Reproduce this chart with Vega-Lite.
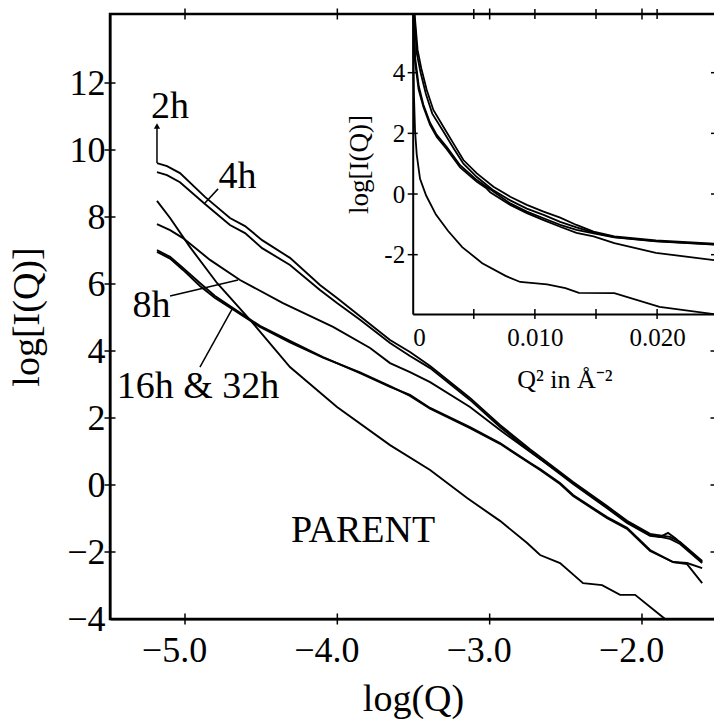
{
  "$schema": "https://vega.github.io/schema/vega-lite/v6.json",
  "width": 606,
  "height": 605,
  "autosize": {"type": "none"},
  "padding": {"left": 110, "top": 14, "right": 0, "bottom": 107},
  "background": "white",
  "config": {
    "view": {"stroke": "black", "strokeWidth": 2.5},
    "font": "Liberation Serif",
    "axis": {"grid": false, "domainColor": "black", "tickColor": "black", "labelColor": "black", "titleColor": "black", "labelFont": "Liberation Serif", "titleFont": "Liberation Serif", "titleFontWeight": "normal", "domainWidth": 2}
  },
  "datasets": {
    "main": [
      {"s":"2h","x":-5.184,"y":9.61},{"s":"2h","x":-5.118,"y":9.52},{"s":"2h","x":-5.033,"y":9.31},{"s":"2h","x":-4.869,"y":8.60},{"s":"2h","x":-4.705,"y":7.97},{"s":"2h","x":-4.606,"y":7.73},{"s":"2h","x":-4.494,"y":7.31},{"s":"2h","x":-4.311,"y":6.78},{"s":"2h","x":-4.114,"y":5.97},{"s":"2h","x":-4.002,"y":5.58},{"s":"2h","x":-3.851,"y":5.04},{"s":"2h","x":-3.654,"y":4.33},{"s":"2h","x":-3.523,"y":3.97},{"s":"2h","x":-3.391,"y":3.55},{"s":"2h","x":-3.129,"y":2.60},{"s":"2h","x":-2.932,"y":1.79},{"s":"2h","x":-2.735,"y":1.07},{"s":"2h","x":-2.538,"y":0.39},{"s":"2h","x":-2.452,"y":0.09},{"s":"2h","x":-2.229,"y":-0.63},{"s":"2h","x":-2.098,"y":-1.07},{"s":"2h","x":-1.947,"y":-1.46},{"s":"2h","x":-1.816,"y":-1.55},{"s":"2h","x":-1.750,"y":-1.70},{"s":"2h","x":-1.605,"y":-2.27},
      {"s":"4h","x":-5.184,"y":9.34},{"s":"4h","x":-5.118,"y":9.25},{"s":"4h","x":-5.033,"y":9.04},{"s":"4h","x":-4.869,"y":8.39},{"s":"4h","x":-4.705,"y":7.76},{"s":"4h","x":-4.606,"y":7.52},{"s":"4h","x":-4.494,"y":7.07},{"s":"4h","x":-4.311,"y":6.57},{"s":"4h","x":-4.114,"y":5.82},{"s":"4h","x":-4.002,"y":5.43},{"s":"4h","x":-3.851,"y":4.93},{"s":"4h","x":-3.654,"y":4.24},{"s":"4h","x":-3.523,"y":3.85},{"s":"4h","x":-3.391,"y":3.49},{"s":"4h","x":-3.129,"y":2.54},{"s":"4h","x":-2.932,"y":1.73},{"s":"4h","x":-2.735,"y":1.01},{"s":"4h","x":-2.538,"y":0.33},{"s":"4h","x":-2.452,"y":0.03},{"s":"4h","x":-2.229,"y":-0.69},{"s":"4h","x":-2.098,"y":-1.13},{"s":"4h","x":-1.947,"y":-1.52},{"s":"4h","x":-1.881,"y":-1.55},{"s":"4h","x":-1.829,"y":-1.43},{"s":"4h","x":-1.783,"y":-1.58},{"s":"4h","x":-1.605,"y":-2.30},
      {"s":"8h","x":-5.184,"y":7.79},{"s":"8h","x":-5.098,"y":7.61},{"s":"8h","x":-5.013,"y":7.37},{"s":"8h","x":-4.836,"y":6.72},{"s":"8h","x":-4.639,"y":6.12},{"s":"8h","x":-4.357,"y":5.43},{"s":"8h","x":-4.028,"y":4.72},{"s":"8h","x":-3.785,"y":4.09},{"s":"8h","x":-3.654,"y":3.64},{"s":"8h","x":-3.523,"y":3.37},{"s":"8h","x":-3.391,"y":3.07},{"s":"8h","x":-3.129,"y":2.33},{"s":"8h","x":-2.932,"y":1.64},{"s":"8h","x":-2.735,"y":0.99},{"s":"8h","x":-2.538,"y":0.36},{"s":"8h","x":-2.452,"y":0.06},{"s":"8h","x":-2.229,"y":-0.66},{"s":"8h","x":-2.098,"y":-1.10},{"s":"8h","x":-1.947,"y":-1.49},{"s":"8h","x":-1.816,"y":-1.61},{"s":"8h","x":-1.750,"y":-1.76},{"s":"8h","x":-1.605,"y":-2.33},
      {"s":"16h","x":-5.184,"y":7.01},{"s":"16h","x":-5.098,"y":6.81},{"s":"16h","x":-5.013,"y":6.48},{"s":"16h","x":-4.902,"y":6.03},{"s":"16h","x":-4.803,"y":5.64},{"s":"16h","x":-4.685,"y":5.28},{"s":"16h","x":-4.508,"y":4.75},{"s":"16h","x":-4.311,"y":4.30},{"s":"16h","x":-4.094,"y":3.82},{"s":"16h","x":-3.851,"y":3.34},{"s":"16h","x":-3.654,"y":2.93},{"s":"16h","x":-3.523,"y":2.69},{"s":"16h","x":-3.391,"y":2.30},{"s":"16h","x":-3.129,"y":1.73},{"s":"16h","x":-2.932,"y":1.25},{"s":"16h","x":-2.735,"y":0.66},{"s":"16h","x":-2.669,"y":0.48},{"s":"16h","x":-2.538,"y":0.06},{"s":"16h","x":-2.452,"y":-0.30},{"s":"16h","x":-2.229,"y":-0.96},{"s":"16h","x":-2.098,"y":-1.28},{"s":"16h","x":-1.947,"y":-1.94},{"s":"16h","x":-1.796,"y":-2.30},{"s":"16h","x":-1.704,"y":-2.36},{"s":"16h","x":-1.605,"y":-2.93},
      {"s":"32h","x":-5.184,"y":6.96},{"s":"32h","x":-5.098,"y":6.76},{"s":"32h","x":-5.013,"y":6.42},{"s":"32h","x":-4.902,"y":5.94},{"s":"32h","x":-4.803,"y":5.58},{"s":"32h","x":-4.685,"y":5.24},{"s":"32h","x":-4.508,"y":4.72},{"s":"32h","x":-4.311,"y":4.26},{"s":"32h","x":-4.094,"y":3.80},{"s":"32h","x":-3.851,"y":3.36},{"s":"32h","x":-3.654,"y":2.95},{"s":"32h","x":-3.523,"y":2.66},{"s":"32h","x":-3.391,"y":2.28},{"s":"32h","x":-3.129,"y":1.70},{"s":"32h","x":-2.932,"y":1.23},{"s":"32h","x":-2.735,"y":0.64},{"s":"32h","x":-2.669,"y":0.45},{"s":"32h","x":-2.538,"y":0.03},{"s":"32h","x":-2.452,"y":-0.33},{"s":"32h","x":-2.229,"y":-0.99},{"s":"32h","x":-2.098,"y":-1.31},{"s":"32h","x":-1.947,"y":-1.97},{"s":"32h","x":-1.796,"y":-2.30},{"s":"32h","x":-1.704,"y":-2.33},{"s":"32h","x":-1.605,"y":-2.48},
      {"s":"PARENT","x":-5.184,"y":8.48},{"s":"PARENT","x":-5.098,"y":7.97},{"s":"PARENT","x":-4.967,"y":7.10},{"s":"PARENT","x":-4.790,"y":6.03},{"s":"PARENT","x":-4.573,"y":4.93},{"s":"PARENT","x":-4.311,"y":3.52},{"s":"PARENT","x":-4.002,"y":2.33},{"s":"PARENT","x":-3.654,"y":1.19},{"s":"PARENT","x":-3.391,"y":0.45},{"s":"PARENT","x":-3.148,"y":-0.39},{"s":"PARENT","x":-2.932,"y":-1.07},{"s":"PARENT","x":-2.754,"y":-1.73},{"s":"PARENT","x":-2.669,"y":-2.09},{"s":"PARENT","x":-2.538,"y":-2.33},{"s":"PARENT","x":-2.387,"y":-2.93},{"s":"PARENT","x":-2.262,"y":-2.99},{"s":"PARENT","x":-2.144,"y":-3.28},{"s":"PARENT","x":-2.045,"y":-3.28},{"s":"PARENT","x":-1.881,"y":-3.88},{"s":"PARENT","x":-1.848,"y":-4.00}
    ],
    "insetAB": [
      {"s":"A","x":0.00008,"y":6.3},{"s":"A","x":0.0004,"y":4.75},{"s":"A","x":0.0007,"y":4.15},{"s":"A","x":0.00115,"y":3.43},{"s":"A","x":0.00169,"y":2.77},{"s":"A","x":0.00251,"y":2.22},{"s":"A","x":0.00333,"y":1.67},{"s":"A","x":0.00415,"y":1.12},{"s":"A","x":0.00525,"y":0.68},{"s":"A","x":0.00661,"y":0.24},{"s":"A","x":0.00798,"y":-0.09},{"s":"A","x":0.00934,"y":-0.36},{"s":"A","x":0.01071,"y":-0.58},{"s":"A","x":0.01207,"y":-0.78},{"s":"A","x":0.0134,"y":-1.02},{"s":"A","x":0.0148,"y":-1.24},{"s":"A","x":0.0165,"y":-1.40},{"s":"A","x":0.0199,"y":-1.53},{"s":"A","x":0.0247,"y":-1.64},
      {"s":"B","x":0.00007,"y":6.3},{"s":"B","x":0.00035,"y":4.6},{"s":"B","x":0.00065,"y":4.0},{"s":"B","x":0.00108,"y":3.3},{"s":"B","x":0.0016,"y":2.65},{"s":"B","x":0.00251,"y":2.06},{"s":"B","x":0.00333,"y":1.52},{"s":"B","x":0.00415,"y":1.0},{"s":"B","x":0.00525,"y":0.56},{"s":"B","x":0.00661,"y":0.12},{"s":"B","x":0.00798,"y":-0.21},{"s":"B","x":0.00934,"y":-0.48},{"s":"B","x":0.01071,"y":-0.69},{"s":"B","x":0.01207,"y":-0.92},{"s":"B","x":0.0134,"y":-1.10},{"s":"B","x":0.0148,"y":-1.27},{"s":"B","x":0.0165,"y":-1.42},{"s":"B","x":0.0199,"y":-1.55},{"s":"B","x":0.0247,"y":-1.66}
    ],
    "insetCD": [
      {"s":"C","x":0.00006,"y":6.3},{"s":"C","x":0.0002,"y":4.5},{"s":"C","x":0.0005,"y":3.55},{"s":"C","x":0.00087,"y":2.95},{"s":"C","x":0.00142,"y":2.35},{"s":"C","x":0.00197,"y":1.95},{"s":"C","x":0.00279,"y":1.55},{"s":"C","x":0.00388,"y":0.95},{"s":"C","x":0.00525,"y":0.46},{"s":"C","x":0.00634,"y":0.16},{"s":"C","x":0.00798,"y":-0.31},{"s":"C","x":0.00934,"y":-0.58},{"s":"C","x":0.01071,"y":-0.80},{"s":"C","x":0.01207,"y":-1.02},{"s":"C","x":0.0134,"y":-1.18},{"s":"C","x":0.0148,"y":-1.30},{"s":"C","x":0.0165,"y":-1.43},{"s":"C","x":0.0199,"y":-1.56},{"s":"C","x":0.0247,"y":-1.67},
      {"s":"D","x":0.00005,"y":6.3},{"s":"D","x":0.00018,"y":4.4},{"s":"D","x":0.00048,"y":3.45},{"s":"D","x":0.00087,"y":2.88},{"s":"D","x":0.00142,"y":2.28},{"s":"D","x":0.00197,"y":1.88},{"s":"D","x":0.00279,"y":1.48},{"s":"D","x":0.00388,"y":0.88},{"s":"D","x":0.00525,"y":0.40},{"s":"D","x":0.006,"y":0.20},{"s":"D","x":0.00634,"y":0.06},{"s":"D","x":0.00798,"y":-0.36},{"s":"D","x":0.00934,"y":-0.63},{"s":"D","x":0.01071,"y":-0.86},{"s":"D","x":0.01207,"y":-1.08},{"s":"D","x":0.0134,"y":-1.28},{"s":"D","x":0.0148,"y":-1.40},{"s":"D","x":0.0165,"y":-1.62},{"s":"D","x":0.0199,"y":-1.94},{"s":"D","x":0.0247,"y":-2.18}
    ],
    "insetP": [
      {"s":"P","x":0.00003,"y":6.3},{"s":"P","x":0.00006,"y":4.5},{"s":"P","x":0.0001,"y":3.3},{"s":"P","x":0.00019,"y":2.1},{"s":"P","x":0.00033,"y":1.3},{"s":"P","x":0.0006,"y":0.5},{"s":"P","x":0.0011,"y":-0.05},{"s":"P","x":0.0019,"y":-0.68},{"s":"P","x":0.0029,"y":-1.22},{"s":"P","x":0.00405,"y":-1.75},{"s":"P","x":0.00569,"y":-2.28},{"s":"P","x":0.0076,"y":-2.70},{"s":"P","x":0.0088,"y":-2.90},{"s":"P","x":0.011,"y":-2.98},{"s":"P","x":0.0125,"y":-3.10},{"s":"P","x":0.0136,"y":-3.26},{"s":"P","x":0.0165,"y":-3.27},{"s":"P","x":0.0202,"y":-3.72},{"s":"P","x":0.0247,"y":-3.96}
    ],
    "labels": [
      {"t":"2h","x":-5.098,"y":10.95},
      {"t":"4h","x":-4.655,"y":8.87},
      {"t":"8h","x":-5.22,"y":5.02},
      {"t":"16h & 32h","x":-4.915,"y":2.60},
      {"t":"PARENT","x":-3.831,"y":-1.70}
    ],
    "pointers": [
      {"x":-4.783,"y":8.84,"x2":-4.869,"y2":8.42},
      {"x":-5.098,"y":5.64,"x2":-4.652,"y2":6.12},
      {"x":-4.902,"y":3.52,"x2":-4.691,"y2":5.25},
      {"x":-5.184,"y":9.61,"x2":-5.184,"y2":10.7}
    ],
    "arrow": [{"x":-5.184,"y":10.72}],
    "mainXTicks": [{"v":-5},{"v":-4},{"v":-3},{"v":-2}],
    "mainYTicksL": [{"v":-2},{"v":0},{"v":2},{"v":4},{"v":6},{"v":8},{"v":10},{"v":12}],
    "mainYTicksR": [{"v":-2},{"v":0},{"v":2},{"v":4}],
    "insetXTicks": [{"v":0.005},{"v":0.01},{"v":0.015},{"v":0.02}],
    "insetYTicks": [{"v":-2},{"v":0},{"v":2},{"v":4}]
  },
  "layer": [
    {
      "layer": [
        {
          "data": {"name": "main"},
          "mark": {"type": "line", "color": "black", "strokeWidth": 1.9, "clip": true},
          "encoding": {
            "x": {"field": "x", "type": "quantitative", "scale": {"domain": [-5.4924, -1.5141], "nice": false, "zero": false},
              "axis": {"orient": "bottom", "values": [-5, -4, -3, -2], "format": ".1f", "labelFontSize": 36, "labelPadding": 14, "labelOffset": -11, "ticks": false, "tickSize": 0, "title": "log(Q)", "titleFontSize": 38, "titlePadding": 12}},
            "y": {"field": "y", "type": "quantitative", "scale": {"domain": [-4, 14.06], "nice": false, "zero": false},
              "axis": {"orient": "left", "values": [-4, -2, 0, 2, 4, 6, 8, 10, 12], "labelFontSize": 36, "labelPadding": 5, "ticks": false, "tickSize": 0, "title": "log[I(Q)]", "titleFontSize": 38, "titlePadding": 20}},
            "detail": {"field": "s", "type": "nominal"}
          }
        },
        {
          "data": {"name": "labels"},
          "mark": {"type": "text", "font": "Liberation Serif", "fontSize": 38, "align": "center", "baseline": "alphabetic", "color": "black"},
          "encoding": {
            "x": {"field": "x", "type": "quantitative", "scale": {"domain": [-5.4924, -1.5141], "nice": false, "zero": false}, "axis": null},
            "y": {"field": "y", "type": "quantitative", "scale": {"domain": [-4, 14.06], "nice": false, "zero": false}, "axis": null},
            "text": {"field": "t", "type": "nominal"}
          }
        },
        {
          "data": {"name": "pointers"},
          "mark": {"type": "rule", "color": "black", "strokeWidth": 1.5},
          "encoding": {
            "x": {"field": "x", "type": "quantitative", "scale": {"domain": [-5.4924, -1.5141], "nice": false, "zero": false}, "axis": null},
            "y": {"field": "y", "type": "quantitative", "scale": {"domain": [-4, 14.06], "nice": false, "zero": false}, "axis": null},
            "x2": {"field": "x2"},
            "y2": {"field": "y2"}
          }
        },
        {
          "data": {"name": "arrow"},
          "mark": {"type": "point", "shape": "triangle-up", "filled": true, "color": "black", "size": 40, "opacity": 1},
          "encoding": {
            "x": {"field": "x", "type": "quantitative", "scale": {"domain": [-5.4924, -1.5141], "nice": false, "zero": false}, "axis": null},
            "y": {"field": "y", "type": "quantitative", "scale": {"domain": [-4, 14.06], "nice": false, "zero": false}, "axis": null}
          }
        },
        {
          "data": {"name": "mainXTicks"},
          "mark": {"type": "tick", "orient": "vertical", "size": 11, "thickness": 1.5, "color": "black", "opacity": 1},
          "encoding": {
            "x": {"field": "v", "type": "quantitative", "scale": {"domain": [-5.4924, -1.5141], "nice": false, "zero": false}, "axis": null},
            "y": {"datum": -4, "type": "quantitative", "scale": {"domain": [-4, 14.06], "nice": false, "zero": false}, "axis": null}
          }
        },
        {
          "data": {"name": "mainXTicks"},
          "mark": {"type": "tick", "orient": "vertical", "size": 11, "thickness": 1.5, "color": "black", "opacity": 1},
          "encoding": {
            "x": {"field": "v", "type": "quantitative", "scale": {"domain": [-5.4924, -1.5141], "nice": false, "zero": false}, "axis": null},
            "y": {"datum": 14.06, "type": "quantitative", "scale": {"domain": [-4, 14.06], "nice": false, "zero": false}, "axis": null}
          }
        },
        {
          "data": {"name": "mainYTicksL"},
          "mark": {"type": "tick", "orient": "horizontal", "size": 11, "thickness": 1.5, "color": "black", "opacity": 1},
          "encoding": {
            "x": {"datum": -5.4924, "type": "quantitative", "scale": {"domain": [-5.4924, -1.5141], "nice": false, "zero": false}, "axis": null},
            "y": {"field": "v", "type": "quantitative", "scale": {"domain": [-4, 14.06], "nice": false, "zero": false}, "axis": null}
          }
        },
        {
          "data": {"name": "mainYTicksR"},
          "mark": {"type": "tick", "orient": "horizontal", "size": 11, "thickness": 1.5, "color": "black", "opacity": 1},
          "encoding": {
            "x": {"datum": -1.5141, "type": "quantitative", "scale": {"domain": [-5.4924, -1.5141], "nice": false, "zero": false}, "axis": null},
            "y": {"field": "v", "type": "quantitative", "scale": {"domain": [-4, 14.06], "nice": false, "zero": false}, "axis": null}
          }
        }
      ],
      "resolve": {"axis": {"x": "independent", "y": "independent"}}
    },
    {
      "layer": [
        {
          "data": {"name": "insetAB"},
          "mark": {"type": "line", "color": "black", "strokeWidth": 1.8, "clip": true},
          "encoding": {
            "x": {"field": "x", "type": "quantitative", "scale": {"domain": [0, 0.02482], "range": [302.7, 606], "nice": false, "zero": false},
              "axis": {"orient": "bottom", "offset": -305, "values": [0, 0.01, 0.02], "labelExpr": "datum.value == 0 ? '0' : (datum.value == 0.01 ? '0.010' : '0.020')", "labelFontSize": 25, "labelPadding": 11, "ticks": false, "tickSize": 0, "title": "Q² in Å⁻²", "titleFontSize": 26, "titlePadding": 16}},
            "y": {"field": "y", "type": "quantitative", "scale": {"domain": [-3.956, 5.935], "range": [300, 0], "nice": false, "zero": false},
              "axis": {"orient": "left", "offset": -302.7, "values": [-2, 0, 2, 4], "labelExpr": "replace(datum.label, '−', '-')", "labelFontSize": 25, "labelPadding": 8, "ticks": false, "tickSize": 0, "title": "log[I(Q)]", "titleFontSize": 27, "titlePadding": 10}},
            "detail": {"field": "s", "type": "nominal"}
          }
        },
        {
          "data": {"name": "insetCD"},
          "mark": {"type": "line", "color": "black", "strokeWidth": 1.8, "clip": true},
          "encoding": {
            "x": {"field": "x", "type": "quantitative", "scale": {"domain": [0, 0.02482], "range": [302.7, 606], "nice": false, "zero": false}, "axis": null},
            "y": {"field": "y", "type": "quantitative", "scale": {"domain": [-3.956, 5.935], "range": [300, 0], "nice": false, "zero": false}, "axis": null},
            "detail": {"field": "s", "type": "nominal"}
          }
        },
        {
          "data": {"name": "insetP"},
          "mark": {"type": "line", "color": "black", "strokeWidth": 1.8, "clip": true},
          "encoding": {
            "x": {"field": "x", "type": "quantitative", "scale": {"domain": [0, 0.02482], "range": [302.7, 606], "nice": false, "zero": false}, "axis": null},
            "y": {"field": "y", "type": "quantitative", "scale": {"domain": [-3.956, 5.935], "range": [300, 0], "nice": false, "zero": false}, "axis": null}
          }
        },
        {
          "data": {"name": "insetXTicks"},
          "mark": {"type": "tick", "orient": "vertical", "size": 10, "thickness": 1.5, "color": "black", "opacity": 1},
          "encoding": {
            "x": {"field": "v", "type": "quantitative", "scale": {"domain": [0, 0.02482], "range": [302.7, 606], "nice": false, "zero": false}, "axis": null},
            "y": {"datum": -3.956, "type": "quantitative", "scale": {"domain": [-3.956, 5.935], "range": [300, 0], "nice": false, "zero": false}, "axis": null}
          }
        },
        {
          "data": {"name": "insetXTicks"},
          "mark": {"type": "tick", "orient": "vertical", "size": 10, "thickness": 1.5, "color": "black", "opacity": 1},
          "encoding": {
            "x": {"field": "v", "type": "quantitative", "scale": {"domain": [0, 0.02482], "range": [302.7, 606], "nice": false, "zero": false}, "axis": null},
            "y": {"datum": 5.935, "type": "quantitative", "scale": {"domain": [-3.956, 5.935], "range": [300, 0], "nice": false, "zero": false}, "axis": null}
          }
        },
        {
          "data": {"name": "insetYTicks"},
          "mark": {"type": "tick", "orient": "horizontal", "size": 10, "thickness": 1.5, "color": "black", "opacity": 1},
          "encoding": {
            "x": {"datum": 0, "type": "quantitative", "scale": {"domain": [0, 0.02482], "range": [302.7, 606], "nice": false, "zero": false}, "axis": null},
            "y": {"field": "v", "type": "quantitative", "scale": {"domain": [-3.956, 5.935], "range": [300, 0], "nice": false, "zero": false}, "axis": null}
          }
        },
        {
          "data": {"name": "insetYTicks"},
          "mark": {"type": "tick", "orient": "horizontal", "size": 10, "thickness": 1.5, "color": "black", "opacity": 1},
          "encoding": {
            "x": {"datum": 0.02482, "type": "quantitative", "scale": {"domain": [0, 0.02482], "range": [302.7, 606], "nice": false, "zero": false}, "axis": null},
            "y": {"field": "v", "type": "quantitative", "scale": {"domain": [-3.956, 5.935], "range": [300, 0], "nice": false, "zero": false}, "axis": null}
          }
        }
      ],
      "resolve": {"axis": {"x": "independent", "y": "independent"}}
    }
  ],
  "resolve": {"scale": {"x": "independent", "y": "independent"}, "axis": {"x": "independent", "y": "independent"}}
}
